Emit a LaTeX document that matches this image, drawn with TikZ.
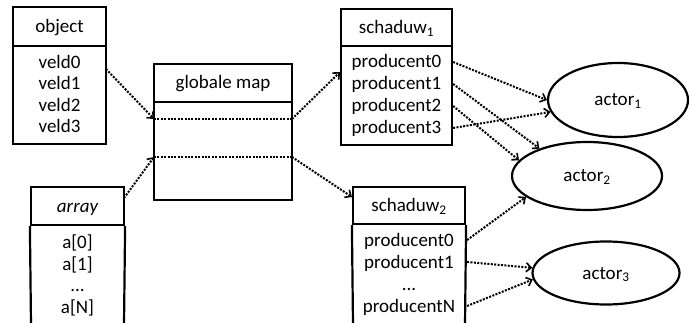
\documentclass[tikz,border=0pt]{standalone}
\usepackage{fontspec}
\setmainfont{Carlito}
\usetikzlibrary{arrows.meta,shapes.geometric}
\begin{document}
\begin{tikzpicture}[x=1pt,y=-1pt,
  boxline/.style={line width=2.2pt},
  box/.style={draw,boxline,inner sep=0pt,rectangle},
  lbl/.style={font=\fontsize{19}{22}\selectfont,inner sep=0pt,text height=12pt,text depth=0pt,anchor=center},
  actor/.style={draw,boxline,ellipse,inner sep=0pt,font=\fontsize{19}{22}\selectfont,text height=12pt,text depth=0pt},
  dots/.style={line width=2pt,dash pattern=on 2pt off 1.4pt},
  link/.style={dots,-{Straight Barb[length=5pt,width=9pt,line width=1.6pt]}}]
\useasboundingbox (0,0) rectangle (690,323);

% object
\node[box,lbl,minimum width=93pt,minimum height=39pt] (objh) at (59.5,26.5) {object};
\node[box,minimum width=93pt,minimum height=98pt] (obj) at (59.5,95) {};
\node[lbl] (v0) at (59.5,63) {veld0};
\node[lbl] (v1) at (59.5,84) {veld1};
\node[lbl] (v2) at (59.5,106) {veld2};
\node[lbl] (v3) at (59.5,127) {veld3};

% array
\node[box,lbl,minimum width=93pt,minimum height=38pt] (arrh) at (77.5,206) {\itshape array};
\draw[boxline] (31,325) -- (arrh.south west) (124,325) -- (arrh.south east);
\node[lbl] (a0) at (77.5,242) {a[0]};
\node[lbl] (a1r) at (77.5,264) {a[1]};
\node[lbl] (a2r) at (77.5,285) {...};
\node[lbl] (aN) at (77.5,307) {a[N]};

% globale map
\node[box,lbl,minimum width=138pt,minimum height=38pt] (gmh) at (223,83) {globale map};
\node[box,minimum width=138pt,minimum height=98pt] (gm) at (223,151) {};
\coordinate (gmAL) at (154,119);
\coordinate (gmAR) at (292,119);
\coordinate (gmBL) at (154,157);
\coordinate (gmBR) at (292,157);

% schaduw 1
\node[box,lbl,minimum width=111pt,minimum height=37pt] (s1h) at (396.5,27.5) {schaduw\textsubscript{1}};
\node[box,minimum width=111pt,minimum height=99pt] (s1) at (396.5,95.5) {};
\node[lbl] (s1p0) at (396.5,62) {producent0};
\node[lbl] (s1p1) at (396.5,84) {producent1};
\node[lbl] (s1p2) at (396.5,106) {producent2};
\node[lbl] (s1p3) at (396.5,128) {producent3};

% schaduw 2
\node[box,lbl,minimum width=112pt,minimum height=37pt] (s2h) at (409,205.5) {schaduw\textsubscript{2}};
\draw[boxline] (353,325) -- (s2h.south west) (465,325) -- (s2h.south east);
\node[lbl] (s2p0) at (409,240) {producent0};
\node[lbl] (s2p1) at (409,262) {producent1};
\node[lbl] (s2p2) at (409,284) {...};
\node[lbl] (s2pN) at (409,306) {producentN};

% actors
\node[actor,minimum width=140pt,minimum height=74pt] (ac1) at (618,100) {actor\textsubscript{1}};
\node[actor,minimum width=150pt,minimum height=68pt] (ac2) at (587,176) {actor\textsubscript{2}};
\node[actor,minimum width=147pt,minimum height=63pt] (ac3) at (606,273) {actor\textsubscript{3}};

% connectors
\coordinate (objout) at (106,69);
\coordinate (arrout) at (124,198);
\coordinate (s1in) at (340,72);
\coordinate (s2in) at (352,197);
\draw[link] (objout) -- (gmAL);
\draw[link] (arrout) -- (gmBL);
\draw[dots] (gmAL) -- (gmAR);
\draw[dots] (gmBL) -- (gmBR);
\draw[link] (gmAR) -- (s1in);
\draw[link] (gmBR) -- (s2in);

\draw[link] (s1p0 -| s1.east) -- (ac1.180);
\draw[link] (s1p1 -| s1.east) -- (ac2.150);
\draw[link] (s1p2 -| s1.east) -- (ac2.167);
\draw[link] (s1p3 -| s1.east) -- (ac1.190);
\draw[link] ([xshift=1pt]s2p0 -| s2h.east) -- (ac2.199);
\draw[link] ([xshift=1pt]s2p1 -| s2h.east) -- (ac3.176);
\draw[link] ([xshift=1pt]s2pN -| s2h.east) -- (ac3.185);
\end{tikzpicture}
\end{document}
